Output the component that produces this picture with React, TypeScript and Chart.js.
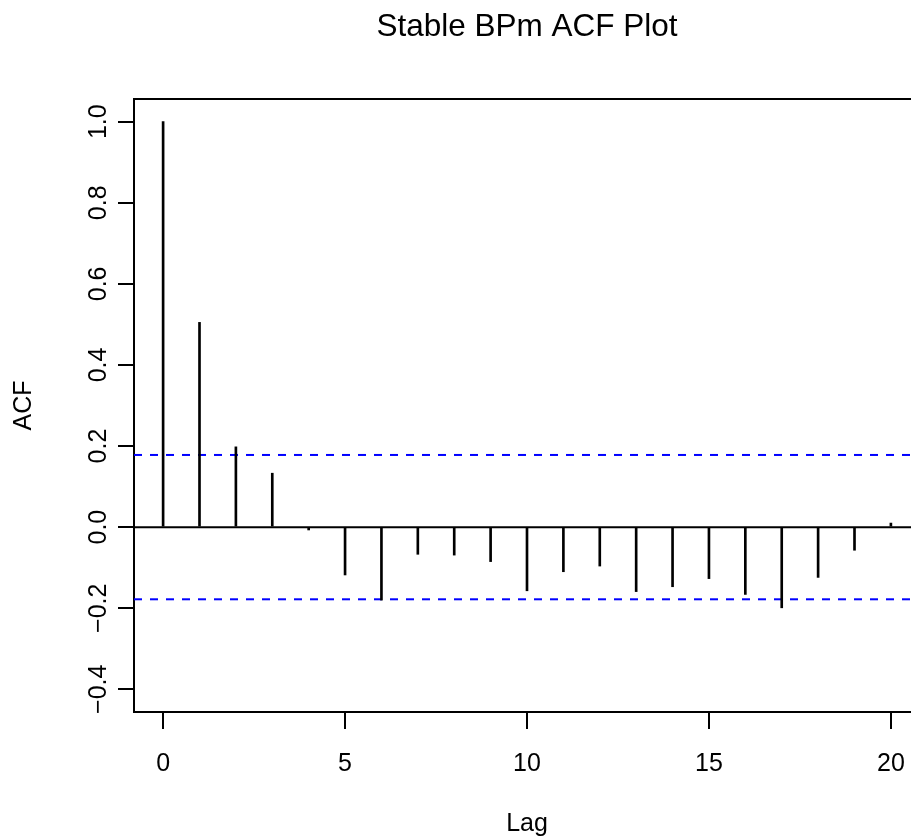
import React, { useEffect, useRef } from "react";
import { Chart, registerables } from "chart.js";

Chart.register(...registerables);

// ---- data ----
const lags = [0, 1, 2, 3, 4, 5, 6, 7, 8, 9, 10, 11, 12, 13, 14, 15, 16, 17, 18, 19, 20];
const acfValues = [
  1.0, 0.505, 0.198, 0.133, -0.007, -0.118, -0.18, -0.067, -0.069, -0.085, -0.157,
  -0.11, -0.096, -0.159, -0.147, -0.127, -0.166, -0.199, -0.124, -0.057, 0.01,
];
const ciBound = 0.178;
const xTicks = [0, 5, 10, 15, 20];
const yTicks = [-0.4, -0.2, 0.0, 0.2, 0.4, 0.6, 0.8, 1.0];
const xLimits = [-0.8, 20.8];
const yLimits = [-0.456, 1.056];
const titleText = "Stable BPm ACF Plot";
const xTitle = "Lag";
const yTitle = "ACF";

const FAMILY = "'Liberation Sans', Arial, Helvetica, sans-serif";

function fmt(v: number): string {
  const s = Math.abs(v) < 1e-9 ? "0.0" : v.toFixed(1);
  return s.replace("-", "\u2212");
}

export default function App() {
  const ref = useRef<HTMLCanvasElement | null>(null);

  useEffect(() => {
    if (!ref.current) return;
    const tickFont = { family: FAMILY, size: 25, weight: "normal" as const };
    const chart = new Chart(ref.current, {
      type: "bar",
      data: {
        datasets: [
          {
            type: "line",
            data: [
              { x: xLimits[0], y: 0 },
              { x: xLimits[1], y: 0 },
            ],
            borderColor: "#000000",
            borderWidth: 2,
            pointRadius: 0,
          } as any,
          {
            type: "bar",
            data: lags.map((x, i) => ({ x, y: acfValues[i] })),
            backgroundColor: "#000000",
            borderWidth: 0,
            barThickness: 2,
          } as any,
          {
            type: "line",
            data: [
              { x: xLimits[0], y: ciBound },
              { x: xLimits[1], y: ciBound },
            ],
            borderColor: "#0000FF",
            borderWidth: 2,
            borderDash: [8, 8],
            pointRadius: 0,
          } as any,
          {
            type: "line",
            data: [
              { x: xLimits[0], y: -ciBound },
              { x: xLimits[1], y: -ciBound },
            ],
            borderColor: "#0000FF",
            borderWidth: 2,
            borderDash: [8, 8],
            pointRadius: 0,
          } as any,
        ],
      },
      options: {
        animation: false,
        responsive: false,
        events: [],
        layout: { padding: { left: 0, right: 20, top: 0, bottom: 0 } },
        plugins: {
          legend: { display: false },
          tooltip: { enabled: false },
          title: {
            display: true,
            text: titleText,
            fullSize: false,
            color: "#000000",
            font: { family: FAMILY, size: 31.5, weight: "normal" },
            padding: { top: 8, bottom: 53.2 },
          },
        },
        scales: {
          x: {
            type: "linear",
            position: "bottom",
            min: xLimits[0],
            max: xLimits[1],
            offset: false,
            afterBuildTicks: (s: any) => {
              s.ticks = xTicks.map((v) => ({ value: v }));
            },
            afterFit: (s: any) => {
              s.height = 128;
            },
            grid: {
              offset: false,
              drawOnChartArea: false,
              drawTicks: true,
              tickLength: 17,
              color: "#000000",
              lineWidth: 2,
            },
            border: { display: true, color: "#000000", width: 2 },
            ticks: {
              color: "#000000",
              font: tickFont,
              padding: 20.2,
              maxRotation: 0,
              minRotation: 0,
              autoSkip: false,
              callback: (v: any) => String(v),
            },
            title: {
              display: true,
              text: xTitle,
              color: "#000000",
              font: tickFont,
              padding: { top: 0, bottom: 0.5 },
            },
          },
          x2: {
            type: "linear",
            position: "top",
            min: xLimits[0],
            max: xLimits[1],
            afterFit: (s: any) => {
              s.height = 0;
            },
            grid: { display: false, drawTicks: false, drawOnChartArea: false },
            border: { display: true, color: "#000000", width: 2 },
            ticks: { display: false },
          },
          y: {
            type: "linear",
            position: "left",
            min: yLimits[0],
            max: yLimits[1],
            afterBuildTicks: (s: any) => {
              s.ticks = yTicks.map((v) => ({ value: v }));
            },
            afterFit: (s: any) => {
              s.width = 134;
            },
            grid: {
              drawOnChartArea: false,
              drawTicks: true,
              tickLength: 16,
              color: "#000000",
              lineWidth: 2,
            },
            border: { display: true, color: "#000000", width: 2 },
            ticks: {
              color: "#000000",
              font: tickFont,
              minRotation: 90,
              maxRotation: 90,
              crossAlign: "center",
              padding: -5.4,
              autoSkip: false,
              callback: (v: any) => fmt(Number(v)),
            },
            title: {
              display: true,
              text: yTitle,
              color: "#000000",
              font: tickFont,
              padding: { top: 8.7, bottom: 0 },
            },
          },
        },
      } as any,
    });
    return () => chart.destroy();
  }, []);

  return (
    <div
      style={{
        position: "fixed",
        left: 0,
        top: 0,
        width: 911,
        height: 840,
        overflow: "hidden",
        background: "#ffffff",
      }}
    >
      <canvas ref={ref} width={940} height={840} style={{ display: "block" }} />
    </div>
  );
}
